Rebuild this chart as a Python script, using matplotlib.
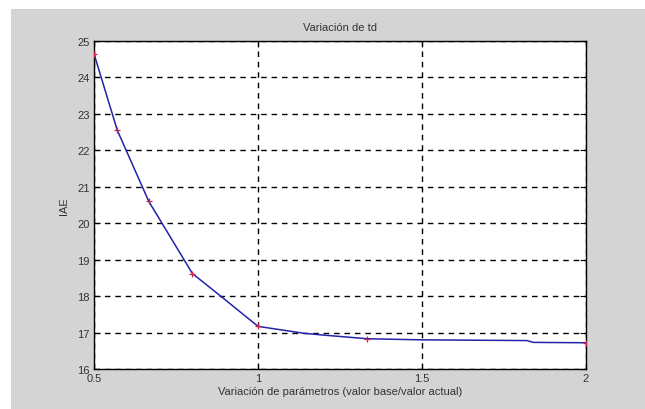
import matplotlib
matplotlib.use("Agg")
import matplotlib.pyplot as plt
from matplotlib.patches import Rectangle

### Data
x_vals = [0.5, 0.571, 0.667, 0.8, 0.9, 1.0, 1.14, 1.2, 1.333, 1.5, 1.82, 1.84, 2.0]
iae_vals = [24.65, 22.55, 20.6, 18.62, 17.9, 17.17, 16.98, 16.93, 16.83, 16.8, 16.78, 16.73, 16.72]
marker_idx = [0, 1, 2, 3, 5, 8, 12]
x_ticks = [0.5, 1, 1.5, 2]
x_ticklabels = ["0.5", "1", "1.5", "2"]
y_ticks = list(range(16, 26))

gray = "#d4d4d4"
plt.rcParams['font.family'] = ['Liberation Sans', 'DejaVu Sans']
txt = "#333333"

fig = plt.figure(figsize=(6.45, 4.10), dpi=100)
fig.patch.set_facecolor("white")
# gray figure area (white strip top and left like the screenshot)
fig.add_artist(Rectangle((11 / 645, 0), 1 - 11 / 645, 400 / 410,
                         transform=fig.transFigure, facecolor=gray,
                         edgecolor="none", zorder=-10))

ax = fig.add_axes([94 / 645, 40 / 410, 492 / 645, 328 / 410])
ax.set_zorder(1)
ax.set_facecolor("white")

ax.plot(x_vals, iae_vals, color="#2222aa", lw=1.1, zorder=3)
ax.plot([x_vals[i] for i in marker_idx], [iae_vals[i] for i in marker_idx],
        linestyle="none", marker="+", color="#cc2244", ms=5, mew=0.9, zorder=4)

ax.set_xlim(0.5, 2)
ax.set_ylim(16, 25)
ax.set_xticks(x_ticks)
ax.set_xticklabels(x_ticklabels)
ax.set_yticks(y_ticks)
ax.tick_params(direction="in", length=4, labelsize=8, colors="black",
               labelcolor=txt, pad=3, top=True, right=True)
ax.grid(True, color="black", linestyle=(0, (4, 3.5)), linewidth=1.0)
for s in ax.spines.values():
    s.set_linewidth(1.0)
    s.set_color("black")

ax.set_title("Variación de td", fontsize=8, pad=8, color=txt)
ax.set_xlabel("Variación de parámetros (valor base/valor actual)", fontsize=8,
              labelpad=2, color=txt)
ax.set_ylabel("IAE", fontsize=8, labelpad=6, color=txt)

fig.savefig("out.png", dpi=100, facecolor=fig.get_facecolor())
